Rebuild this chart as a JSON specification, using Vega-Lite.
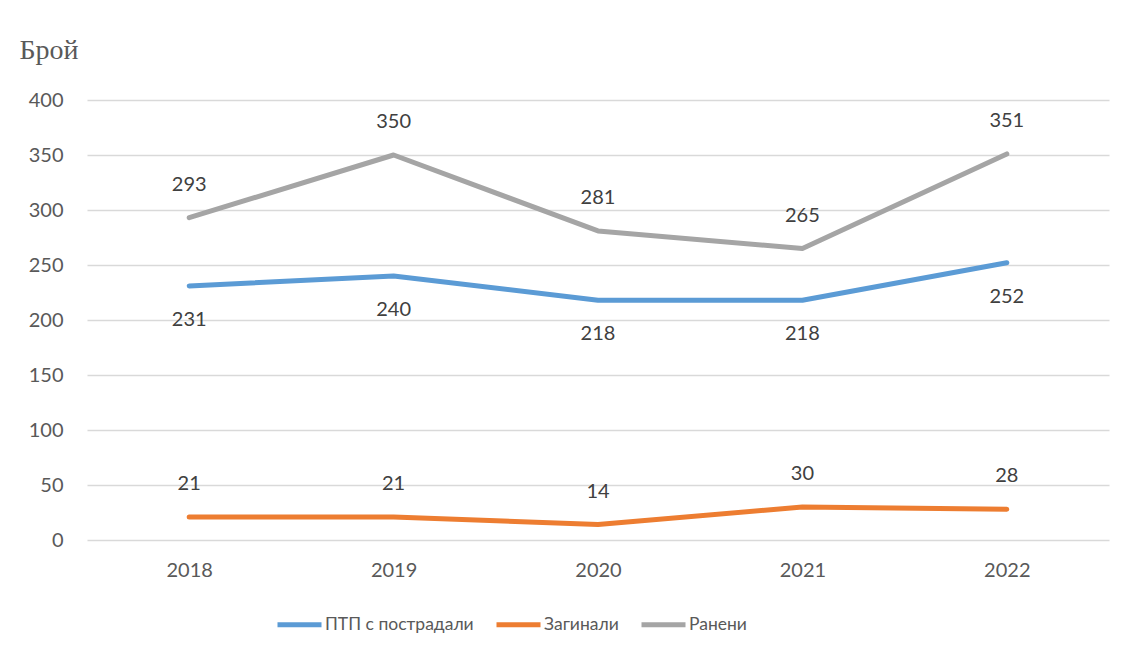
{
  "$schema": "https://vega.github.io/schema/vega-lite/v6.json",
  "width": 1022,
  "height": 440,
  "autosize": {"type": "none"},
  "padding": {"left": 87, "top": 100, "right": 17, "bottom": 115},
  "background": "white",
  "config": {
    "view": {"stroke": null},
    "font": "Lato",
    "axis": {"labelFont": "Lato", "labelFontSize": 20, "labelColor": "#595959", "gridColor": "#d9d9d9", "gridWidth": 1.5, "domain": false, "ticks": false}
  },
  "data": {"values": [
    {"year": "2018", "series": "ПТП с пострадали", "value": 231},
    {"year": "2019", "series": "ПТП с пострадали", "value": 240},
    {"year": "2020", "series": "ПТП с пострадали", "value": 218},
    {"year": "2021", "series": "ПТП с пострадали", "value": 218},
    {"year": "2022", "series": "ПТП с пострадали", "value": 252},
    {"year": "2018", "series": "Загинали", "value": 21},
    {"year": "2019", "series": "Загинали", "value": 21},
    {"year": "2020", "series": "Загинали", "value": 14},
    {"year": "2021", "series": "Загинали", "value": 30},
    {"year": "2022", "series": "Загинали", "value": 28},
    {"year": "2018", "series": "Ранени", "value": 293},
    {"year": "2019", "series": "Ранени", "value": 350},
    {"year": "2020", "series": "Ранени", "value": 281},
    {"year": "2021", "series": "Ранени", "value": 265},
    {"year": "2022", "series": "Ранени", "value": 351}
  ]},
  "encoding": {
    "x": {"field": "year", "type": "ordinal", "scale": {"type": "point", "padding": 0.5},
      "axis": {"title": null, "labelAngle": 0, "labelPadding": 20, "grid": false}},
    "y": {"field": "value", "type": "quantitative", "scale": {"domain": [0, 400], "nice": false},
      "axis": {"values": [0, 50, 100, 150, 200, 250, 300, 350, 400], "labelPadding": 24,
        "title": "Брой", "titleAngle": 0, "titleFont": "Liberation Serif", "titleFontSize": 28, "titleFontWeight": "normal", "titleColor": "#595959",
        "titleAlign": "left", "titleBaseline": "alphabetic", "titleX": -68, "titleY": -42}}
  },
  "layer": [
    {
      "mark": {"type": "line", "strokeWidth": 5, "strokeCap": "round", "strokeJoin": "round"},
      "encoding": {
        "color": {"field": "series", "type": "nominal",
          "scale": {"domain": ["ПТП с пострадали", "Загинали", "Ранени"], "range": ["#5B9BD5", "#ED7D31", "#A5A5A5"]},
          "legend": {"title": null, "orient": "none", "legendX": 188, "legendY": 500, "direction": "horizontal",
            "symbolType": "stroke", "symbolSize": 1936, "symbolStrokeWidth": 5, "labelFont": "Lato", "labelFontSize": 17.5,
            "labelColor": "#595959", "labelOffset": 1, "columnPadding": 12, "padding": 0, "labelLimit": 300}}
      }
    },
    {
      "transform": [{"filter": "datum.series === 'ПТП с пострадали'"}],
      "mark": {"type": "text", "dy": 34, "fontSize": 20, "color": "#404040", "font": "Lato"},
      "encoding": {"text": {"field": "value", "type": "quantitative"}}
    },
    {
      "transform": [{"filter": "datum.series !== 'ПТП с пострадали'"}],
      "mark": {"type": "text", "dy": -33, "fontSize": 20, "color": "#404040", "font": "Lato"},
      "encoding": {"text": {"field": "value", "type": "quantitative"}}
    }
  ]
}
